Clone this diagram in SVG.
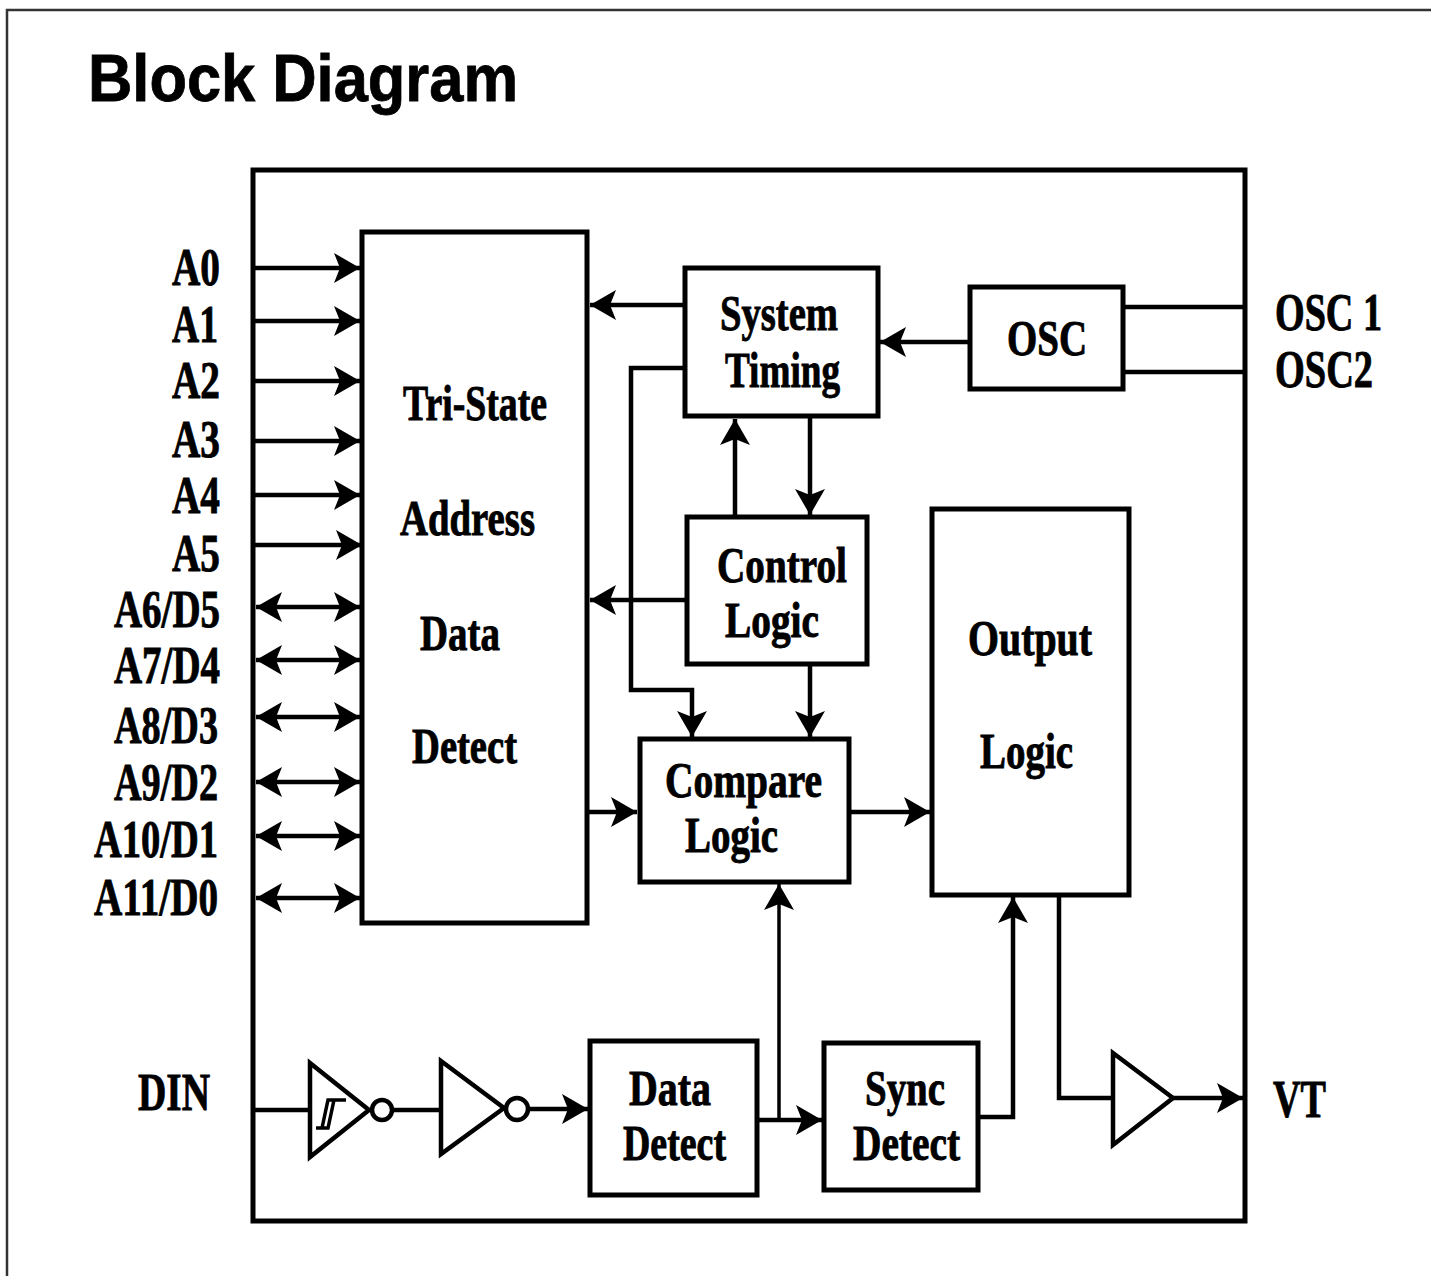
<svg xmlns="http://www.w3.org/2000/svg" width="1431" height="1276" viewBox="0 0 1431 1276">
<style>
.t{font-family:"Liberation Serif","Times New Roman",serif;font-weight:bold;font-size:50px;fill:#000;stroke:#000;stroke-width:0.9}
.lb{font-size:52px}
.title{font-family:"Liberation Sans",Arial,sans-serif;font-weight:bold;font-size:67px;fill:#000;stroke:#000;stroke-width:0.8}
.box{fill:#fff;stroke:#000;stroke-width:5}
.w{fill:none;stroke:#000;stroke-width:4.5}
.thin{fill:none;stroke:#000;stroke-width:3.5}
.a{marker-end:url(#ah)}
.b{marker-start:url(#ah);marker-end:url(#ah)}
.sym{fill:#fff;stroke:#000;stroke-width:4.5;stroke-linejoin:miter}
</style>
<defs>
<marker id="ah" markerUnits="userSpaceOnUse" viewBox="-27 -16 28 32" refX="0" refY="0" markerWidth="28" markerHeight="32" orient="auto-start-reverse">
<path d="M0,0 L-26,-15 L-20,0 L-26,15 Z" fill="#000"/>
</marker>
</defs>
<rect x="0" y="0" width="1431" height="1276" fill="#fff"/>
<rect x="7" y="10" width="1450" height="1300" fill="none" stroke="#333" stroke-width="2.5"/>
<text class="title" x="88" y="101" textLength="430" lengthAdjust="spacingAndGlyphs">Block Diagram</text>
<rect id="frame" x="253" y="170" width="992" height="1051" fill="none" stroke="#000" stroke-width="5"/>

<g id="connectors">
<line class="w a" x1="255" y1="268" x2="360" y2="268"/>
<line class="w a" x1="255" y1="321" x2="360" y2="321"/>
<line class="w a" x1="255" y1="381" x2="360" y2="381"/>
<line class="w a" x1="255" y1="441" x2="360" y2="441"/>
<line class="w a" x1="255" y1="495" x2="360" y2="495"/>
<line class="w a" x1="255" y1="545" x2="362" y2="545"/>
<line class="w b" x1="256" y1="607" x2="360" y2="607"/>
<line class="w b" x1="256" y1="660" x2="360" y2="660"/>
<line class="w b" x1="256" y1="717" x2="360" y2="717"/>
<line class="w b" x1="256" y1="782" x2="360" y2="782"/>
<line class="w b" x1="256" y1="836" x2="360" y2="836"/>
<line class="w b" x1="256" y1="898" x2="360" y2="898"/>
<line class="w a" x1="684" y1="305" x2="590" y2="305"/>
<line class="w a" x1="968" y1="342" x2="880" y2="342"/>
<line class="w" x1="1123" y1="307" x2="1245" y2="307"/>
<line class="w" x1="1123" y1="372" x2="1245" y2="372"/>
<line class="w a" x1="735" y1="517" x2="735" y2="419"/>
<line class="w a" x1="810" y1="417" x2="810" y2="515"/>
<line class="w a" x1="686" y1="600" x2="590" y2="600"/>
<polyline class="w a" points="684,368 631,368 631,690 692,690 692,737"/>
<line class="w a" x1="810" y1="665" x2="810" y2="737"/>
<line class="w a" x1="588" y1="812" x2="637" y2="812"/>
<line class="w a" x1="850" y1="812" x2="930" y2="812"/>
<line class="w a" x1="757" y1="1120" x2="822" y2="1120"/>
<line class="thin a" x1="779" y1="1120" x2="779" y2="884"/>
<polyline class="w a" points="978,1117 1013,1117 1013,897"/>
<polyline class="w" points="1059,895 1059,1098 1113,1098"/>
<line class="w a" x1="1173" y1="1098" x2="1243" y2="1098"/>
<line class="w" x1="253" y1="1110" x2="310" y2="1110"/>
<line class="w" x1="392" y1="1110" x2="441" y2="1110"/>
<line class="w a" x1="528" y1="1109" x2="588" y2="1109"/>
</g>

<g id="labels">
<text class="t lb" x="172" y="285" textLength="48" lengthAdjust="spacingAndGlyphs">A0</text>
<text class="t lb" x="172" y="342" textLength="46" lengthAdjust="spacingAndGlyphs">A1</text>
<text class="t lb" x="172" y="398" textLength="48" lengthAdjust="spacingAndGlyphs">A2</text>
<text class="t lb" x="172" y="457" textLength="48" lengthAdjust="spacingAndGlyphs">A3</text>
<text class="t lb" x="172" y="513" textLength="48" lengthAdjust="spacingAndGlyphs">A4</text>
<text class="t lb" x="172" y="571" textLength="48" lengthAdjust="spacingAndGlyphs">A5</text>
<text class="t lb" x="114" y="627" textLength="106" lengthAdjust="spacingAndGlyphs">A6/D5</text>
<text class="t lb" x="114" y="683" textLength="106" lengthAdjust="spacingAndGlyphs">A7/D4</text>
<text class="t lb" x="114" y="743" textLength="104" lengthAdjust="spacingAndGlyphs">A8/D3</text>
<text class="t lb" x="114" y="800" textLength="104" lengthAdjust="spacingAndGlyphs">A9/D2</text>
<text class="t lb" x="94" y="857" textLength="124" lengthAdjust="spacingAndGlyphs">A10/D1</text>
<text class="t lb" x="94" y="915" textLength="124" lengthAdjust="spacingAndGlyphs">A11/D0</text>
<text class="t lb" x="138" y="1110" textLength="72" lengthAdjust="spacingAndGlyphs">DIN</text>
<text class="t lb" x="1273" y="1117" textLength="53" lengthAdjust="spacingAndGlyphs">VT</text>
<text class="t lb" x="1275" y="330" textLength="107" lengthAdjust="spacingAndGlyphs">OSC 1</text>
<text class="t lb" x="1275" y="387" textLength="98" lengthAdjust="spacingAndGlyphs">OSC2</text>
</g>

<g id="tristate">
<rect class="box" x="362" y="232" width="225" height="691"/>
<text class="t" x="403" y="420" textLength="144" lengthAdjust="spacingAndGlyphs">Tri-State</text>
<text class="t" x="400" y="535" textLength="135" lengthAdjust="spacingAndGlyphs">Address</text>
<text class="t" x="420" y="650" textLength="80" lengthAdjust="spacingAndGlyphs">Data</text>
<text class="t" x="412" y="763" textLength="105" lengthAdjust="spacingAndGlyphs">Detect</text>
</g>

<g id="systemtiming">
<rect class="box" x="685" y="268" width="193" height="148"/>
<text class="t" x="720" y="330" textLength="118" lengthAdjust="spacingAndGlyphs">System</text>
<text class="t" x="725" y="387" textLength="115" lengthAdjust="spacingAndGlyphs">Timing</text>
</g>

<g id="osc">
<rect class="box" x="970" y="287" width="153" height="102"/>
<text class="t" x="1007" y="355" textLength="80" lengthAdjust="spacingAndGlyphs">OSC</text>
</g>

<g id="controllogic">
<rect class="box" x="687" y="517" width="180" height="147"/>
<text class="t" x="717" y="582" textLength="130" lengthAdjust="spacingAndGlyphs">Control</text>
<text class="t" x="725" y="637" textLength="94" lengthAdjust="spacingAndGlyphs">Logic</text>
</g>

<g id="comparelogic">
<rect class="box" x="640" y="739" width="209" height="143"/>
<text class="t" x="665" y="797" textLength="157" lengthAdjust="spacingAndGlyphs">Compare</text>
<text class="t" x="685" y="852" textLength="93" lengthAdjust="spacingAndGlyphs">Logic</text>
</g>

<g id="outputlogic">
<rect class="box" x="932" y="509" width="197" height="386"/>
<text class="t" x="968" y="655" textLength="124" lengthAdjust="spacingAndGlyphs">Output</text>
<text class="t" x="980" y="768" textLength="93" lengthAdjust="spacingAndGlyphs">Logic</text>
</g>

<g id="datadetect">
<rect class="box" x="590" y="1041" width="167" height="154"/>
<text class="t" x="629" y="1105" textLength="82" lengthAdjust="spacingAndGlyphs">Data</text>
<text class="t" x="623" y="1160" textLength="103" lengthAdjust="spacingAndGlyphs">Detect</text>
</g>

<g id="syncdetect">
<rect class="box" x="824" y="1043" width="154" height="147"/>
<text class="t" x="865" y="1105" textLength="80" lengthAdjust="spacingAndGlyphs">Sync</text>
<text class="t" x="853" y="1160" textLength="107" lengthAdjust="spacingAndGlyphs">Detect</text>
</g>

<g id="schmitt">
<polygon class="sym" points="310,1063 369,1110 310,1157"/>
<path d="M316,1128 H328 L334,1100 H346 M322,1128 L328,1100 H336" fill="none" stroke="#000" stroke-width="3.5"/>
<circle class="sym" cx="382" cy="1110" r="10"/>
</g>

<g id="inverter">
<polygon class="sym" points="441,1061 504,1108 441,1154"/>
<circle class="sym" cx="517" cy="1109" r="11"/>
</g>

<g id="buffer">
<polygon class="sym" points="1113,1053 1173,1098 1113,1145"/>
</g>
</svg>
